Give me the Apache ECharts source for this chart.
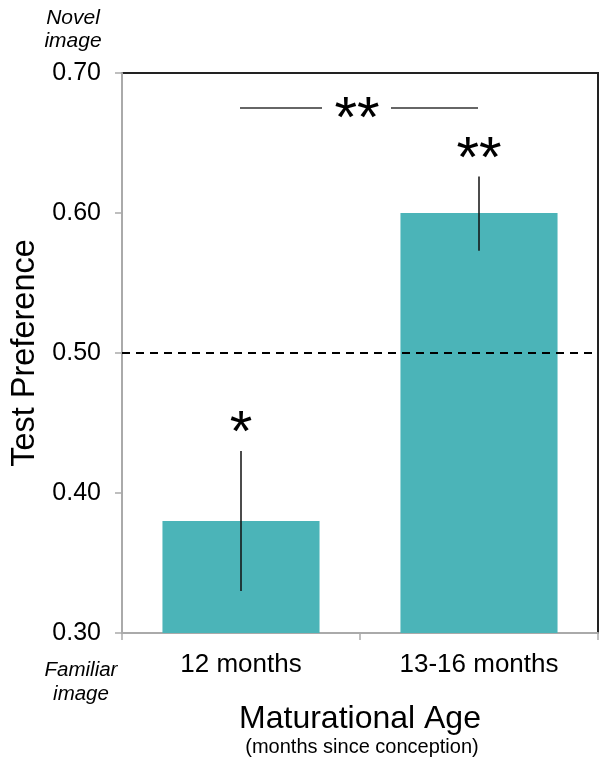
<!DOCTYPE html>
<html><head><meta charset="utf-8">
<script src="https://cdn.jsdelivr.net/npm/echarts@6/dist/echarts.min.js"></script>
<style>html,body{margin:0;padding:0;background:#fff}#c{width:608px;height:768px}</style>
</head><body><div id="c"></div>
<script>
const categories = ['12 months', '13-16 months'];
const means = [0.38, 0.60];
const errLow = [0.33, 0.573];
const errHigh = [0.43, 0.626];
const sigMarks = ['*', '**'];
const yTicks = [0.30, 0.40, 0.50, 0.60, 0.70];
const chanceLevel = 0.50;

const chart = echarts.init(document.getElementById('c'));
const font = 'Liberation Sans, Arial, sans-serif';
chart.setOption({
  animation: false,
  grid: { left: 122, right: 10, top: 73, bottom: 135, show: true, borderColor: '#222', borderWidth: 2, backgroundColor: 'transparent' },
  xAxis: {
    type: 'category', data: categories,
    axisLine: { lineStyle: { color: '#aaa', width: 2 } },
    axisTick: { show: true, length: 7, lineStyle: { color: '#aaa', width: 1.5 } },
    axisLabel: { color: '#000', fontSize: 26, fontFamily: font, margin: 19 },
    name: 'Maturational Age', nameLocation: 'middle', nameGap: 70,
    nameTextStyle: { color: '#000', fontSize: 32, fontFamily: font }
  },
  yAxis: {
    type: 'value', min: yTicks[0], max: yTicks[yTicks.length - 1], interval: 0.1,
    splitLine: { show: false },
    axisLine: { show: true, lineStyle: { color: '#aaa', width: 2 } },
    axisTick: { show: true, length: 7, lineStyle: { color: '#aaa', width: 1.5 } },
    axisLabel: { color: '#000', fontSize: 25, fontFamily: font, margin: 21, formatter: v => v.toFixed(2) },
    name: 'Test Preference', nameLocation: 'middle', nameGap: 80,
    nameTextStyle: { color: '#000', fontSize: 32.5, fontFamily: font }
  },
  series: [
    {
      type: 'bar', data: means, barWidth: '66%',
      itemStyle: { color: '#4bb4b8' },
      markLine: {
        silent: true, symbol: 'none', label: { show: false },
        lineStyle: { color: '#000', type: [8, 6], width: 2 },
        data: [{ yAxis: chanceLevel }]
      }
    },
    {
      type: 'custom',
      data: categories.map((c, i) => [i, errLow[i], errHigh[i]]),
      renderItem: function (params, api) {
        const lo = api.coord([api.value(0), api.value(1)]);
        const hi = api.coord([api.value(0), api.value(2)]);
        return {
          type: 'group',
          children: [
            { type: 'line', shape: { x1: hi[0], y1: hi[1], x2: lo[0], y2: lo[1] }, style: { stroke: '#111', lineWidth: 1.5 } },
            { type: 'text', x: hi[0], y: hi[1] - 16, style: { text: sigMarks[params.dataIndex], fontSize: 58, fontFamily: font, fill: '#000', align: 'center', verticalAlign: 'middle' } }
          ]
        };
      },
      z: 5
    }
  ],
  graphic: [
    { type: 'line', shape: { x1: 240, y1: 108, x2: 322, y2: 108 }, style: { stroke: '#333', lineWidth: 1.5 } },
    { type: 'line', shape: { x1: 391, y1: 108, x2: 478, y2: 108 }, style: { stroke: '#333', lineWidth: 1.5 } },
    { type: 'text', x: 357, y: 121, style: { text: '**', fontSize: 58, fontFamily: font, fill: '#000', align: 'center', verticalAlign: 'middle' } },
    { type: 'text', x: 73, y: 7, style: { text: 'Novel\nimage', fontSize: 21, fontStyle: 'italic', fontFamily: font, fill: '#000', align: 'center', lineHeight: 23 } },
    { type: 'text', x: 81, y: 658, style: { text: 'Familiar\nimage', fontSize: 20.5, fontStyle: 'italic', fontFamily: font, fill: '#000', align: 'center', lineHeight: 24 } },
    { type: 'text', x: 362, y: 737, style: { text: '(months since conception)', fontSize: 20, fontFamily: font, fill: '#000', align: 'center' } }
  ]
});
</script></body></html>
